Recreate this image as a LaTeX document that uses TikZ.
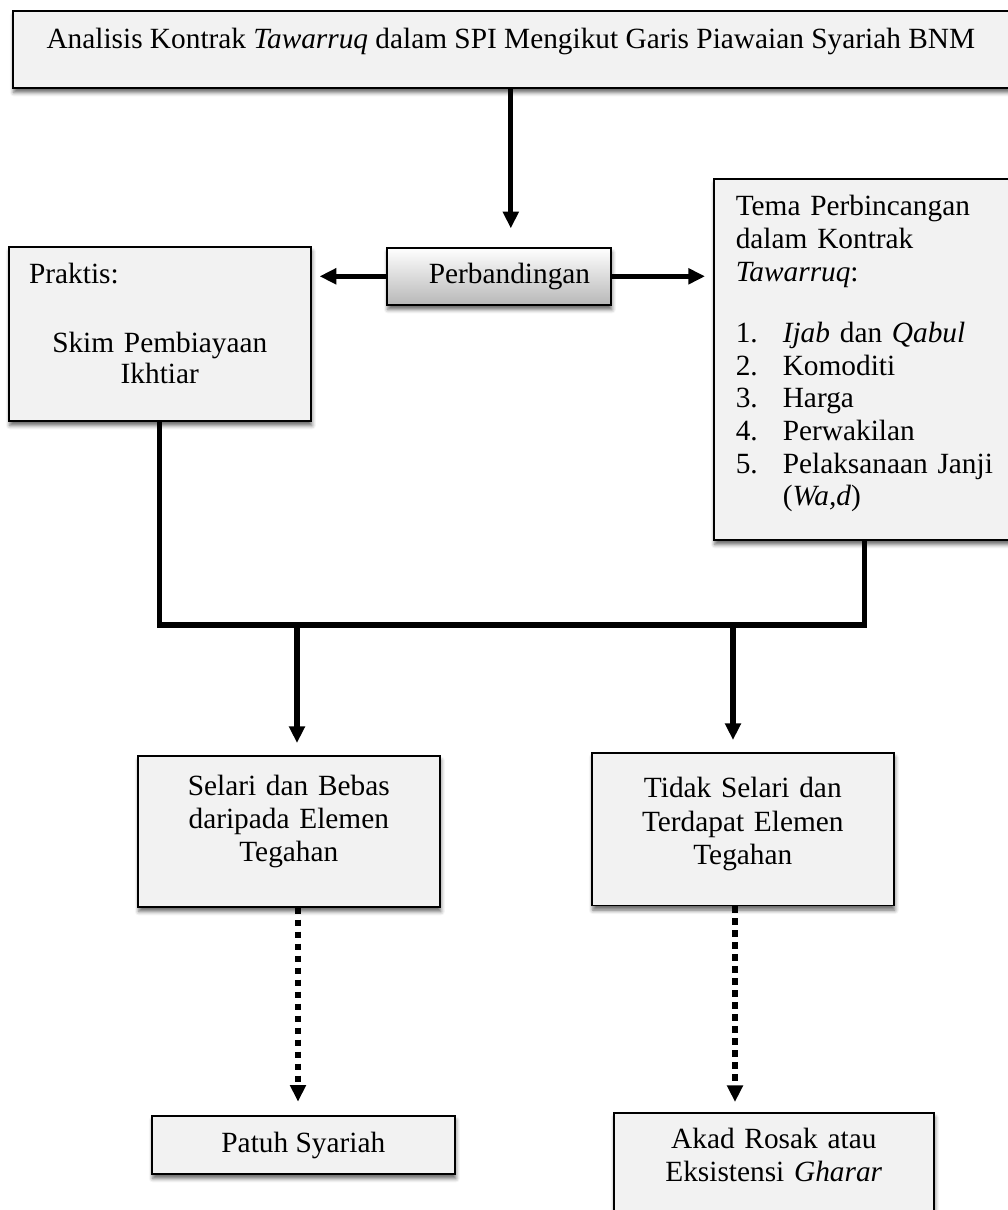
\documentclass[tikz,border=0pt]{standalone}
\usepackage{fontspec}
\setmainfont{Liberation Serif}
\usetikzlibrary{arrows.meta,shadows.blur}

\begin{document}
\begin{tikzpicture}[x=0.75pt,y=0.75pt,yscale=-1,xscale=1,
    kotak/.style={draw=black,line width=1.2pt,fill=black!5,inner sep=0pt,anchor=north west,
        blur shadow={shadow xshift=0.8pt,shadow yshift=-3.5pt,shadow blur radius=3pt,shadow opacity=60},
        font=\fontsize{22pt}{24.75pt}\selectfont},
    panah/.style={line width=4pt,-{Triangle[length=12.5pt,width=11.5pt]}},
    panahtitik/.style={panah,dash pattern=on 5pt off 4pt},
    garis/.style={line width=4pt,line join=miter}]
                \useasboundingbox (0,0) rectangle (1007,1210);
                % kotak
                \node [kotak,minimum width=747pt,text height=28.5pt,text depth=29.25pt] (tajuk) at (12,10) {Analisis Kontrak \textit{Tawarruq} dalam SPI Mengikut Garis Piawaian Syariah BNM};
                \node [kotak,top color=white,bottom color=black!28,minimum width=168pt,text height=27pt,text depth=15.75pt] (banding) at (386,247) {\hspace*{16pt}Perbandingan};
                \node [kotak,text width=196.5pt,inner xsep=15pt,align=center,font=\fontsize{22pt}{23.25pt}\selectfont] (praktis) at (8,246) {\makebox[196pt][l]{\rule{0pt}{27.75pt}Praktis:}\\[28.5pt] Skim Pembiayaan\\ Ikhtiar\rule[-27.75pt]{0pt}{0pt}};
                \node [kotak,text width=193.5pt,inner xsep=16.5pt,align=left,font=\fontsize{22pt}{24.5pt}\selectfont] (tema) at (713,178) {\rule{0pt}{27.75pt}Tema Perbincangan\\ dalam Kontrak\\ \textit{Tawarruq}:\\[21.5pt] \makebox[35.25pt][l]{1.}\textit{Ijab} dan \textit{Qabul}\\ \makebox[35.25pt][l]{2.}Komoditi\\ \makebox[35.25pt][l]{3.}Harga\\ \makebox[35.25pt][l]{4.}Perwakilan\\ \makebox[35.25pt][l]{5.}Pelaksanaan Janji\\ \hspace*{35.25pt}(\textit{Wa,d})\rule[-25.5pt]{0pt}{0pt}};
                \node [kotak,text width=206.5pt,inner xsep=10pt,align=center] (selari) at (137,755) {\rule{0pt}{30pt}Selari dan Bebas\\ daripada Elemen\\ Tegahan\rule[-33.75pt]{0pt}{0pt}};
                \node [kotak,text width=206.5pt,inner xsep=10pt,align=center,font=\fontsize{22pt}{25pt}\selectfont] (tidak) at (591,752) {\rule{0pt}{33.75pt}Tidak Selari dan\\ Terdapat Elemen\\ Tegahan\rule[-30.75pt]{0pt}{0pt}};
                \node [kotak,minimum width=227.25pt,text height=27.75pt,text depth=15.75pt] (patuh) at (151,1115) {Patuh Syariah};
                \node [kotak,text width=220pt,inner xsep=10pt,align=center] (rosak) at (613,1112) {\rule{0pt}{27pt}Akad Rosak atau\\ Eksistensi \textit{Gharar}\rule[-30pt]{0pt}{0pt}};
                % titik bantu
                \coordinate (bar) at (0,625);
                \coordinate (bl) at (297,625);
                \coordinate (br) at (733,625);
                \coordinate (dl) at (298,0);
                \coordinate (dr) at (735,0);
                % anak panah
                \draw [panah,shorten >=14pt] (tajuk.south) -- (tajuk.south |- banding.north);
                \draw [panah,shorten >=6pt] (banding.west) -- (banding.west -| praktis.east);
                \draw [panah,shorten >=6pt] (banding.east) -- (banding.east -| tema.west);
                \draw [garis] (praktis.south) |- (bar -| tema.south) -- (tema.south);
                \draw [panah,shorten >=9pt] (bl) -- (bl |- selari.north);
                \draw [panah,shorten >=9pt] (br) -- (br |- tidak.north);
                \draw [panahtitik,shorten >=10pt] (dl |- selari.south) -- (dl |- patuh.north);
                \draw [panahtitik,shorten >=7.5pt] (dr |- tidak.south) -- (dr |- rosak.north);
\end{tikzpicture}
\end{document}
